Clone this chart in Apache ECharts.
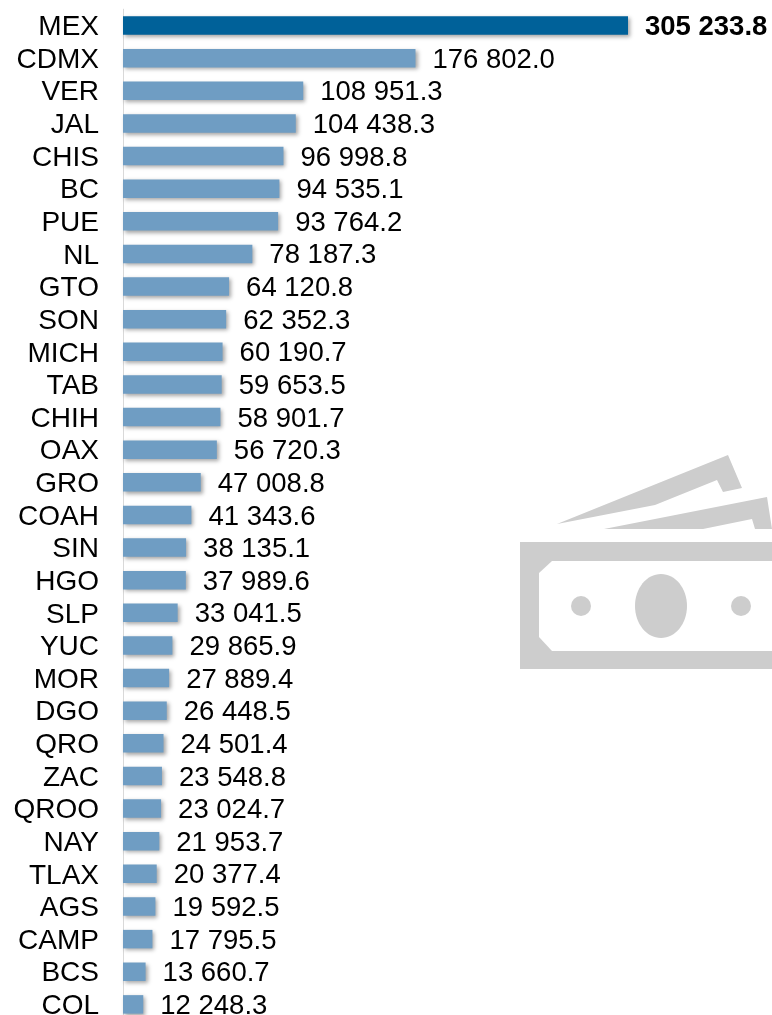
<!DOCTYPE html>
<html>
<head>
<meta charset="utf-8">
<style>
html, body { margin: 0; padding: 0; background: #fff; }
#main { width: 772px; height: 1015px; }
</style>
<script src="https://cdn.jsdelivr.net/npm/echarts@6/dist/echarts.min.js"></script>
</head>
<body>
<div id="main"></div>
<script>
var categories = ['MEX', 'CDMX', 'VER', 'JAL', 'CHIS', 'BC', 'PUE', 'NL', 'GTO', 'SON', 'MICH', 'TAB', 'CHIH', 'OAX', 'GRO', 'COAH',
    'SIN', 'HGO', 'SLP', 'YUC', 'MOR', 'DGO', 'QRO', 'ZAC', 'QROO', 'NAY', 'TLAX', 'AGS', 'CAMP', 'BCS', 'COL'];
var values = [305233.8, 176802.0, 108951.3, 104438.3, 96998.8, 94535.1, 93764.2, 78187.3, 64120.8, 62352.3, 60190.7, 59653.5, 58901.7, 56720.3, 47008.8, 41343.6,
    38135.1, 37989.6, 33041.5, 29865.9, 27889.4, 26448.5, 24501.4, 23548.8, 23024.7, 21953.7, 20377.4, 19592.5, 17795.5, 13660.7, 12248.3];

var FONT = '"Liberation Sans", Arial, sans-serif';
var GRAY = '#cdcdcd';

function fmt(v) {
    return v.toFixed(1).replace(/\B(?=(\d{3})+(?!\d))/g, ' ');
}

// el primero va resaltado
var barData = values.map(function (v, i) {
    if (i === 0) {
        return {
            value: v,
            itemStyle: { color: '#006199' },
            label: { fontWeight: 'bold' }
        };
    }
    return v;
});

// billetes de fondo
function poly(points, fill) {
    return { type: 'polygon', silent: true, shape: { points: points }, style: { fill: fill } };
}
var icon = [
    poly([[557, 524], [728, 455], [742, 488], [723, 492], [717, 480], [655, 505]], GRAY),
    poly([[604, 529], [767, 497], [772, 529], [755, 529], [752, 519], [703, 529]], GRAY),
    { type: 'rect', silent: true, shape: { x: 520, y: 542, width: 252, height: 127 }, style: { fill: GRAY } },
    poly([[552, 561], [772, 561], [772, 651], [552, 651], [539, 637], [539, 573]], '#fff'),
    { type: 'ellipse', silent: true, shape: { cx: 661, cy: 606, rx: 26, ry: 32 }, style: { fill: GRAY } },
    { type: 'circle', silent: true, shape: { cx: 581, cy: 606, r: 10 }, style: { fill: GRAY } },
    { type: 'circle', silent: true, shape: { cx: 741, cy: 606, r: 10 }, style: { fill: GRAY } }
];

var myChart = echarts.init(document.getElementById('main'));

var option = {
    animation: false,
    textStyle: { fontFamily: FONT },
    graphic: { elements: icon },
    grid: { left: 123, top: 9.2, width: 505, height: 1011.5, outerBoundsMode: 'none' },
    xAxis: { type: 'value', min: 0, max: 305233.8, show: false },
    yAxis: {
        type: 'category',
        inverse: true,
        data: categories,
        axisTick: { show: false },
        axisLine: { show: true, lineStyle: { color: '#d9d9d9', width: 1 } },
        axisLabel: {
            margin: 24,
            interval: 0,
            hideOverlap: false,
            formatter: '{a|{value}}',
            rich: { a: { color: '#000', fontSize: 28, fontFamily: FONT, padding: [4, 0, 0, 0] } }
        }
    },
    series: [{
        type: 'bar',
        data: barData,
        barWidth: 18.5,
        itemStyle: {
            color: '#6f9dc3',
            shadowColor: 'rgba(0,0,0,0.35)',
            shadowBlur: 4,
            shadowOffsetX: 2,
            shadowOffsetY: 2
        },
        label: {
            show: true,
            position: 'right',
            distance: 17,
            offset: [0, 2],
            color: '#000',
            fontSize: 27.5,
            fontFamily: FONT,
            formatter: function (p) { return fmt(p.value); }
        }
    }]
};

myChart.setOption(option);
</script>
</body>
</html>
